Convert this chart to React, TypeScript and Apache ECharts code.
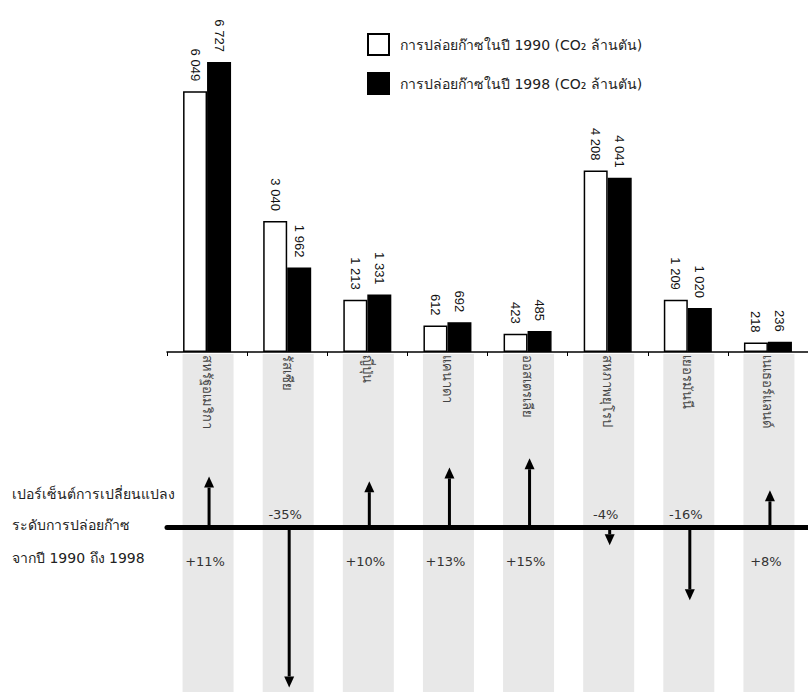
import React, { useEffect, useRef } from "react";
import * as echarts from "echarts";

// Countries (Thai), emissions in million tonnes CO2, percent change 1990 -> 1998
const countries = [
  "สหรัฐอเมริกา",
  "รัสเซีย",
  "ญี่ปุ่น",
  "แคนาดา",
  "ออสเตรเลีย",
  "สหภาพยุโรป",
  "เยอรมันนี",
  "เนเธอร์แลนด์",
];
const emissions1990 = [6049, 3040, 1213, 612, 423, 4208, 1209, 218];
const emissions1998 = [6727, 1962, 1331, 692, 485, 4041, 1020, 236];
const changePct = [11, -35, 10, 13, 15, -4, -16, 8];

const series1990Name = "การปล่อยก๊าซในปี 1990 (CO₂ ล้านตัน)";
const series1998Name = "การปล่อยก๊าซในปี 1998 (CO₂ ล้านตัน)";
const sideCaption = [
  "เปอร์เซ็นต์การเปลี่ยนแปลง",
  "ระดับการปล่อยก๊าซ",
  "จากปี 1990 ถึง 1998",
];

const fmtThousands = (v: number) =>
  String(v).replace(/\B(?=(\d{3})+(?!\d))/g, " ");

export default function App() {
  const ref = useRef<HTMLDivElement>(null);

  useEffect(() => {
    if (!ref.current) return;
    const chart = echarts.init(ref.current, null, { renderer: "svg" });

    const valueLabel = {
      show: true,
      position: "top",
      rotate: -90,
      align: "right",
      verticalAlign: "middle",
      distance: 10,
      fontFamily: "Liberation Sans, Arial, sans-serif",
      fontSize: 13,
      color: "#111",
      formatter: (p: any) => fmtThousands(p.value),
    };

    const option: any = {
      animation: false,
      backgroundColor: "#fff",
      textStyle: { fontFamily: "Tahoma, DejaVu Sans, sans-serif" },
      legend: {
        orient: "vertical",
        left: 362,
        top: 28,
        itemWidth: 21,
        itemHeight: 21,
        itemGap: 16,
        icon: "rect",
        textStyle: { fontSize: 14, color: "#222", padding: [0, 0, 0, 6] },
        data: [series1990Name, series1998Name],
      },
      grid: [
        { left: 167, width: 646, top: 7, height: 345 },
        { left: 167, width: 646, top: 354, height: 338 },
      ],
      xAxis: [
        {
          type: "category",
          gridIndex: 0,
          data: countries,
          z: 5,
          axisLine: { lineStyle: { color: "#000", width: 1.5 } },
          axisTick: { show: true, length: 4, lineStyle: { color: "#000" } },
          axisLabel: {
            rotate: -90,
            margin: 3,
            fontSize: 13,
            color: "#444",
            interval: 0,
          },
        },
        {
          type: "category",
          gridIndex: 1,
          data: countries,
          z: 5,
          axisLine: { onZero: true, lineStyle: { color: "#000", width: 5 } },
          axisTick: { show: false },
          axisLabel: { show: false },
        },
      ],
      yAxis: [
        { type: "value", gridIndex: 0, min: 0, max: 8000, show: false },
        { type: "value", gridIndex: 1, min: -36, max: 37.75, show: false },
      ],
      series: [
        {
          name: series1990Name,
          type: "bar",
          xAxisIndex: 0,
          yAxisIndex: 0,
          data: emissions1990,
          barWidth: 24,
          barGap: "0%",
          itemStyle: { color: "#fff", borderColor: "#000", borderWidth: 1.5 },
          label: valueLabel,
        },
        {
          name: series1998Name,
          type: "bar",
          xAxisIndex: 0,
          yAxisIndex: 0,
          data: emissions1998,
          barWidth: 24,
          itemStyle: { color: "#000", borderColor: "#000", borderWidth: 1.5 },
          label: valueLabel,
        },
        {
          // grey column bands behind the change arrows
          type: "custom",
          xAxisIndex: 1,
          yAxisIndex: 1,
          z: 1,
          silent: true,
          data: countries.map((_, i) => [i, 0]),
          renderItem: (params: any, api: any) => {
            const cx = api.coord([api.value(0), 0])[0];
            const cs = params.coordSys;
            return {
              type: "rect",
              shape: { x: cx - 24.5, y: cs.y, width: 51, height: cs.height },
              style: { fill: "#e8e8e8" },
            };
          },
        },
        {
          // percent-change arrows with their labels
          type: "custom",
          xAxisIndex: 1,
          yAxisIndex: 1,
          z: 6,
          silent: true,
          data: changePct.map((v, i) => [i, v]),
          renderItem: (params: any, api: any) => {
            const i = api.value(0);
            const v = api.value(1);
            const p0 = api.coord([i, 0]);
            const p1 = api.coord([i, v]);
            const dir = v >= 0 ? -1 : 1;
            const head = 11;
            const half = 5;
            const x = p0[0] + 2;
            const startY = p0[1] + dir * 2;
            const tipY = p1[1];
            const baseY = tipY - dir * head;
            const label = (v > 0 ? "+" : "") + v + "%";
            return {
              type: "group",
              children: [
                {
                  type: "line",
                  shape: { x1: x, y1: startY, x2: x, y2: baseY },
                  style: { stroke: "#000", lineWidth: 3 },
                },
                {
                  type: "polygon",
                  shape: {
                    points: [
                      [x, tipY],
                      [x - half, baseY],
                      [x + half, baseY],
                    ],
                  },
                  style: { fill: "#000" },
                },
                {
                  type: "text",
                  x: x - 4,
                  y: v >= 0 ? p0[1] + 34 : p0[1] - 13,
                  style: {
                    text: label,
                    fill: "#333",
                    fontSize: 13,
                    fontFamily: "DejaVu Sans, sans-serif",
                    align: "center",
                    verticalAlign: "middle",
                  },
                },
              ],
            };
          },
        },
      ],
      graphic: sideCaption.map((t, k) => ({
        type: "text",
        left: 12,
        top: [487, 518, 551][k],
        style: {
          text: t,
          fill: "#222",
          fontSize: 14,
          fontFamily: "Tahoma, DejaVu Sans, sans-serif",
        },
      })),
    };

    chart.setOption(option);
    return () => chart.dispose();
  }, []);

  return (
    <div
      ref={ref}
      style={{ position: "fixed", left: 0, top: 0, width: 808, height: 692 }}
    />
  );
}
